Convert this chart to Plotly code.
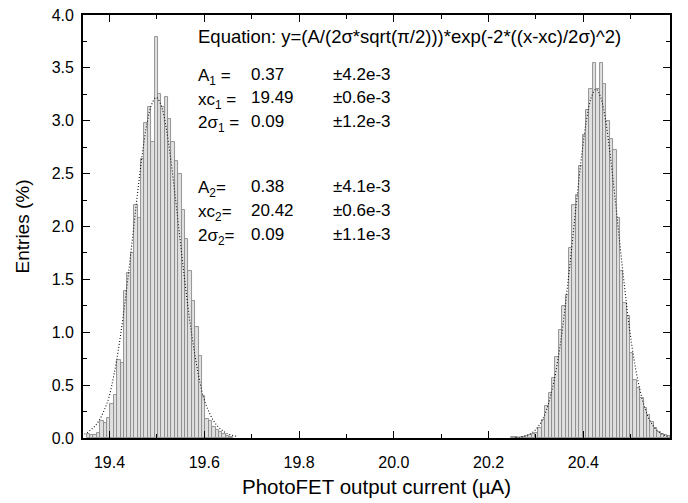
import plotly.graph_objects as go

# ---------------- data ----------------
BIN_WIDTH = 0.00717

# peak 1 histogram (Entries %), first bin centre and consecutive bins
PEAK1_FIRST = 19.3551
PEAK1_HEIGHTS = [0.04, 0.03, 0.03, 0.05, 0.16, 0.14, 0.19, 0.32, 0.41, 0.74,
                 0.71, 1.39, 1.56, 1.75, 2.20, 2.08, 2.64, 2.98, 3.13, 2.80,
                 3.79,
                 3.25, 3.13, 3.22, 3.02, 2.80, 2.62, 2.50, 2.16, 1.88, 1.58,
                 1.30, 1.05, 0.78, 0.40, 0.18, 0.16, 0.10, 0.08, 0.06, 0.04,
                 0.02, 0.01]

# peak 2 histogram
PEAK2_FIRST = 20.2514
PEAK2_HEIGHTS = [0.01, 0.01, 0.00, 0.01, 0.02, 0.03, 0.04, 0.05, 0.09, 0.17,
                 0.30, 0.43, 0.57, 0.77, 1.02, 1.25, 1.35, 1.80, 2.20, 2.30,
                 2.57, 2.87, 3.10, 3.30, 3.55,
                 3.30,
                 3.55, 3.35, 3.00, 2.83, 2.72, 2.08, 1.58, 1.28, 1.15, 0.80,
                 0.55, 0.47, 0.38, 0.28, 0.22, 0.15, 0.09, 0.06, 0.04, 0.03,
                 0.015]

# fitted curves (dotted), sampled off the picture around each centre
CURVE_OFFSETS = [-0.17, -0.15, -0.14, -0.13, -0.12, -0.11, -0.10, -0.09, -0.08,
                 -0.07, -0.06, -0.05, -0.04, -0.03, -0.02, -0.01, 0.0,
                 0.01, 0.02, 0.03, 0.04, 0.05, 0.06, 0.07, 0.08, 0.09, 0.10,
                 0.11, 0.12, 0.13, 0.14, 0.15, 0.17]
FIT1_CENTER = 19.4985
FIT1_VALUES = [0.015, 0.04, 0.07, 0.11, 0.17, 0.26, 0.38, 0.58, 0.83,
               1.14, 1.50, 1.89, 2.29, 2.66, 2.96, 3.15, 3.22,
               3.15, 2.96, 2.66, 2.29, 1.89, 1.50, 1.14, 0.83, 0.58, 0.38,
               0.26, 0.17, 0.11, 0.07, 0.04, 0.015]
FIT2_CENTER = 20.4268
FIT2_VALUES = [0.004, 0.018, 0.036, 0.066, 0.12, 0.20, 0.33, 0.51, 0.75,
               1.06, 1.44, 1.85, 2.28, 2.68, 3.01, 3.22, 3.30,
               3.22, 3.01, 2.68, 2.28, 1.85, 1.44, 1.06, 0.75, 0.51, 0.33,
               0.20, 0.12, 0.066, 0.036, 0.018, 0.004]

X_TICKS = [19.4, 19.6, 19.8, 20.0, 20.2, 20.4]
Y_TICKS = [0.0, 0.5, 1.0, 1.5, 2.0, 2.5, 3.0, 3.5, 4.0]
X_RANGE = [19.344, 20.583]
Y_RANGE = [0, 4.0]

EQUATION = "Equation: y=(A/(2σ*sqrt(π/2)))*exp(-2*((x-xc)/2σ)^2)"
PARAM_LABELS = ["A<sub>1</sub> =", "xc<sub>1</sub> =", "2σ<sub>1</sub> =",
                "A<sub>2</sub>=", "xc<sub>2</sub>=", "2σ<sub>2</sub>="]
PARAM_VALUES = ["0.37", "19.49", "0.09", "0.38", "20.42", "0.09"]
PARAM_ERRORS = ["±4.2e-3", "±0.6e-3", "±1.2e-3", "±4.1e-3", "±0.6e-3", "±1.1e-3"]

# ---------------- figure ----------------
FONT = "Liberation Sans, Arial, sans-serif"
W, H = 688, 503
ML, MR, MT, MB = 83, 18, 15, 65

x1 = [PEAK1_FIRST + i * BIN_WIDTH for i in range(len(PEAK1_HEIGHTS))]
x2 = [PEAK2_FIRST + i * BIN_WIDTH for i in range(len(PEAK2_HEIGHTS))]

fig = go.Figure()
bar_style = dict(marker=dict(color="#e0e0e0", line=dict(color="#8a8a8a", width=0.9)),
                 width=BIN_WIDTH, showlegend=False, hoverinfo="x+y")
fig.add_trace(go.Bar(x=x1, y=PEAK1_HEIGHTS, **bar_style))
fig.add_trace(go.Bar(x=x2, y=PEAK2_HEIGHTS, **bar_style))

line_style = dict(mode="lines",
                  line=dict(color="#111111", width=1.1, dash="1px,2px", shape="spline"),
                  showlegend=False, hoverinfo="skip")
fig.add_trace(go.Scatter(x=[FIT1_CENTER + o for o in CURVE_OFFSETS], y=FIT1_VALUES, **line_style))
fig.add_trace(go.Scatter(x=[FIT2_CENTER + o for o in CURVE_OFFSETS], y=FIT2_VALUES, **line_style))
# empty trace so the mirrored (top / right) frame axes are drawn
fig.add_trace(go.Scatter(x=[], y=[], xaxis="x2", yaxis="y2", showlegend=False,
                         hoverinfo="skip"))

tick_common = dict(showline=True, linecolor="black", linewidth=1.8,
                   ticks="inside", ticklen=7, tickwidth=1.4, tickcolor="black",
                   showgrid=False, zeroline=False, automargin=False,
                   tickfont=dict(family=FONT, size=16, color="black"))
x_minor = dict(ticks="inside", ticklen=4, tickwidth=1.4, tickcolor="black",
               dtick=0.1, tick0=19.4)
y_minor = dict(ticks="inside", ticklen=4, tickwidth=1.4, tickcolor="black",
               dtick=0.25, tick0=0)

fig.update_layout(
    xaxis=dict(range=X_RANGE, tickvals=X_TICKS, ticktext=[f"{v:.1f}" for v in X_TICKS],
               ticklabelstandoff=9, minor=x_minor,
               title=dict(text="PhotoFET output current (µA)",
                          font=dict(family=FONT, size=20.5, color="black"), standoff=10),
               **tick_common),
    yaxis=dict(range=Y_RANGE, tickvals=Y_TICKS, ticktext=[f"{v:.1f}" for v in Y_TICKS],
               ticklabelstandoff=4, minor=y_minor,
               title=dict(text="Entries (%)",
                          font=dict(family=FONT, size=19, color="black"), standoff=17),
               **tick_common),
    xaxis2=dict(range=X_RANGE, overlaying="x", side="top", tickvals=X_TICKS,
                showticklabels=False, minor=x_minor, **tick_common),
    yaxis2=dict(range=Y_RANGE, overlaying="y", side="right", tickvals=Y_TICKS,
                showticklabels=False, minor=y_minor, **tick_common),
)

pw, ph = W - ML - MR, H - MT - MB


def px(x):
    return (x - ML) / pw


def py(y):
    return (H - MB - y) / ph


ann_font = dict(family=FONT, size=17, color="black")
eq_font = dict(family=FONT, size=18.5, color="black")
annotations = [dict(text=EQUATION, x=px(196), y=py(37), xref="paper", yref="paper",
                    xanchor="left", yanchor="middle", showarrow=False, font=eq_font)]
row_y = [74, 98, 121, 186, 210, 234]
for lab, val, err, yy in zip(PARAM_LABELS, PARAM_VALUES, PARAM_ERRORS, row_y):
    annotations.append(dict(text=lab, x=px(196), y=py(yy), xref="paper", yref="paper",
                            xanchor="left", yanchor="middle", showarrow=False,
                            font=ann_font, yshift=-3))
    annotations.append(dict(text=val, x=px(249), y=py(yy), xref="paper", yref="paper",
                            xanchor="left", yanchor="middle", showarrow=False, font=ann_font))
    annotations.append(dict(text=err, x=px(331), y=py(yy), xref="paper", yref="paper",
                            xanchor="left", yanchor="middle", showarrow=False, font=ann_font))

fig.update_layout(width=W, height=H, margin=dict(l=ML, r=MR, t=MT, b=MB, autoexpand=False),
                  paper_bgcolor="white", plot_bgcolor="white", bargap=0,
                  barmode="overlay", annotations=annotations,
                  font=dict(family=FONT, color="black"))

fig.write_html("out.html")
